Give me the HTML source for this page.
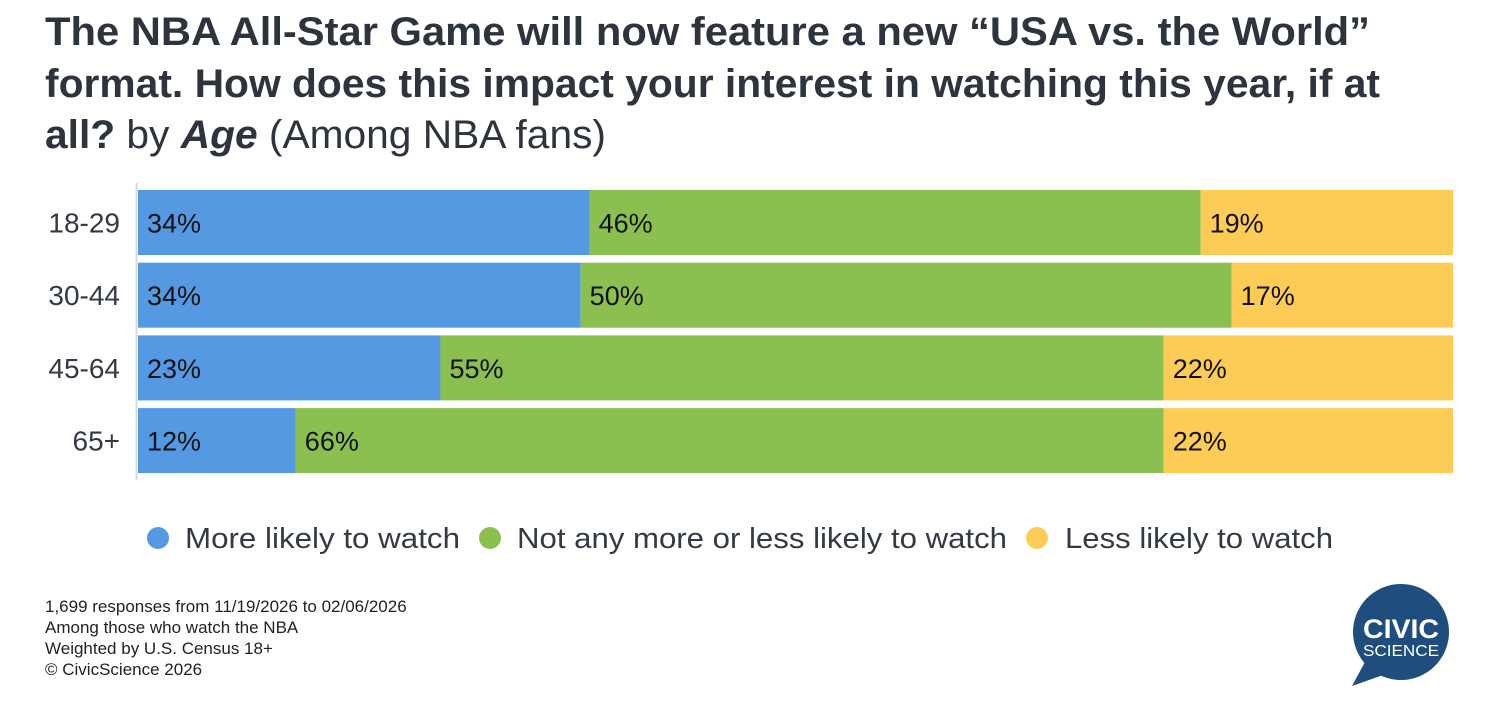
<!DOCTYPE html>
<html><head><meta charset="utf-8"><style>
body{margin:0;background:#fff}
svg{display:block;font-family:"Liberation Sans",Arial,sans-serif}
</style></head><body>
<svg width="1488" height="708" viewBox="0 0 1488 708">
<g fill="#2e343d">
<text x="45" y="45" font-size="40" font-weight="bold" textLength="1325" lengthAdjust="spacingAndGlyphs">The NBA All-Star Game will now feature a new “USA vs. the World”</text>
<text x="45" y="97" font-size="40" font-weight="bold" textLength="1335" lengthAdjust="spacingAndGlyphs">format. How does this impact your interest in watching this year, if at</text>
<text x="45" y="148" font-size="40" textLength="561" lengthAdjust="spacingAndGlyphs"><tspan font-weight="bold">all?</tspan> by <tspan font-weight="bold" font-style="italic">Age</tspan> (Among NBA fans)</text>
</g>
<line x1="136.5" y1="183" x2="136.5" y2="480" stroke="#d9d9d9" stroke-width="2"/>
<g id="bars"></g>
<g>
<circle cx="158" cy="538" r="11" fill="#5599e3"/>
<text x="185" y="548" font-size="29" fill="#333a44" textLength="275" lengthAdjust="spacingAndGlyphs">More likely to watch</text>
<circle cx="490" cy="538" r="11" fill="#8bbf50"/>
<text x="517" y="548" font-size="29" fill="#333a44" textLength="490" lengthAdjust="spacingAndGlyphs">Not any more or less likely to watch</text>
<circle cx="1037" cy="538" r="11" fill="#fdcc57"/>
<text x="1065" y="548" font-size="29" fill="#333a44" textLength="268" lengthAdjust="spacingAndGlyphs">Less likely to watch</text>
</g>
<g font-size="17" fill="#222">
<text x="45" y="612">1,699 responses from 11/19/2026 to 02/06/2026</text>
<text x="45" y="633">Among those who watch the NBA</text>
<text x="45" y="654">Weighted by U.S. Census 18+</text>
<text x="45" y="675">© CivicScience 2026</text>
</g>
<g>
<circle cx="1401" cy="632" r="48" fill="#1f4e7e"/>
<path d="M1366 660 L1352 686 L1386 674 Z" fill="#1f4e7e"/>
<text x="1401" y="638" font-size="27" font-weight="bold" fill="#fff" text-anchor="middle" textLength="76" lengthAdjust="spacingAndGlyphs">CIVIC</text>
<text x="1401" y="656" font-size="16" fill="#fff" text-anchor="middle" textLength="76" lengthAdjust="spacingAndGlyphs">SCIENCE</text>
</g>
</svg>
<script>
const categories = ["18-29","30-44","45-64","65+"];
const moreLikely = [34,34,23,12];
const neutral = [46,50,55,66];
const lessLikely = [19,17,22,22];
const seriesColors = ["#5599e3","#8bbf50","#fdcc57"];
const seriesNames = ["more","neutral","less"];
const NS="http://www.w3.org/2000/svg";
const g=document.getElementById('bars');
const x0=138,x1=1453,top0=190,band=72.7,barH=65;
function xScale(v,total){return v/total*(x1-x0);}
function yBand(i){return top0+i*band;}
categories.forEach((c,i)=>{
  const vals=[moreLikely[i],neutral[i],lessLikely[i]];
  const total=vals.reduce((a,b)=>a+b,0);
  const y=yBand(i);
  const lab=document.createElementNS(NS,'text');
  
  
  lab.setAttribute('x',120);lab.setAttribute('y',y+barH/2+10);
  lab.setAttribute('text-anchor','end');lab.setAttribute('font-size','28');lab.setAttribute('fill','#333a44');
  lab.textContent=c;g.appendChild(lab);
  let x=x0;
  vals.forEach((v,k)=>{
    const w=xScale(v,total);
    const r=document.createElementNS(NS,'rect');
    
    
    r.setAttribute('x',x);r.setAttribute('y',y);r.setAttribute('width',w);r.setAttribute('height',barH);
    r.setAttribute('fill',seriesColors[k]);g.appendChild(r);
    const t=document.createElementNS(NS,'text');
    
    
    t.setAttribute('x',x+9);t.setAttribute('y',y+barH/2+10);t.setAttribute('font-size','27');t.setAttribute('fill','#111');
    t.textContent=v+'%';g.appendChild(t);
    x+=w;
  });
});
</script>
</body></html>
